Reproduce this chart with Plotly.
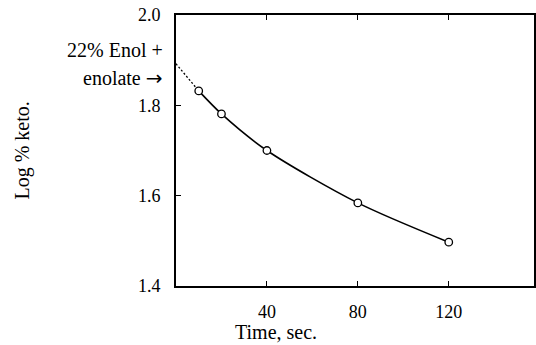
import plotly.graph_objects as go

# Data
time_sec = [10, 20, 40, 80, 120]
log_keto = [1.832, 1.781, 1.700, 1.584, 1.497]
extrap_time = [0, 10]
extrap_log = [1.892, 1.832]   # 22% enol + enolate -> 78% keto
x_ticks = [40, 80, 120]
y_ticks = [1.4, 1.6, 1.8, 2.0]

FONT = "Liberation Serif"
LBL = 20

fig = go.Figure()
fig.add_trace(go.Scatter(x=extrap_time, y=extrap_log, mode="lines",
                         line=dict(color="black", width=1.3, dash="2px,2px"),
                         showlegend=False, hoverinfo="skip"))
fig.add_trace(go.Scatter(x=time_sec, y=log_keto, mode="lines",
                         line=dict(color="black", width=1.6, shape="spline", smoothing=0.8),
                         showlegend=False))
fig.add_trace(go.Scatter(x=time_sec, y=log_keto, mode="markers",
                         marker=dict(symbol="circle", size=7.5, color="white",
                                     line=dict(color="black", width=1.3)),
                         showlegend=False))

fig.update_layout(
    width=536, height=345,
    margin=dict(l=176, r=0, t=15, b=59),
    paper_bgcolor="white", plot_bgcolor="white",
    font=dict(family=FONT, size=18, color="black"),
    xaxis=dict(range=[0, 157.5], tickvals=x_ticks, ticktext=[str(v) for v in x_ticks],
               ticks="inside", ticklen=5, tickwidth=1, tickcolor="black",
               showline=True, linecolor="black", linewidth=1.8, mirror="ticks",
               showgrid=False, zeroline=False, ticklabelstandoff=8),
    yaxis=dict(range=[1.4, 2.0], tickvals=y_ticks, ticktext=["1.4", "1.6", "1.8", "2.0"],
               ticks="inside", ticklen=5, tickwidth=1, tickcolor="black",
               showline=True, linecolor="black", linewidth=1.8, mirror=True,
               showgrid=False, zeroline=False, ticklabelstandoff=10),
)

fig.add_annotation(x=44, y=-0.2177, xref="x", yref="paper", text="Time, sec.",
                   showarrow=False, font=dict(size=LBL), xanchor="center", yanchor="bottom")
fig.add_annotation(x=-0.43, y=0.5, xref="paper", yref="paper", text="Log % keto.",
                   showarrow=False, textangle=-90, font=dict(size=LBL),
                   xanchor="center", yanchor="middle")
fig.add_annotation(x=-0.03, y=1.9225, xref="paper", yref="y", text="22% Enol +",
                   showarrow=False, xanchor="right", yanchor="middle", font=dict(size=LBL))
fig.add_annotation(x=-0.03, y=1.8605, xref="paper", yref="y",
                   text="enolate <span style='font-family:DejaVu Sans'>→</span>",
                   showarrow=False, xanchor="right", yanchor="middle", font=dict(size=LBL))

fig.write_html("out.html")
